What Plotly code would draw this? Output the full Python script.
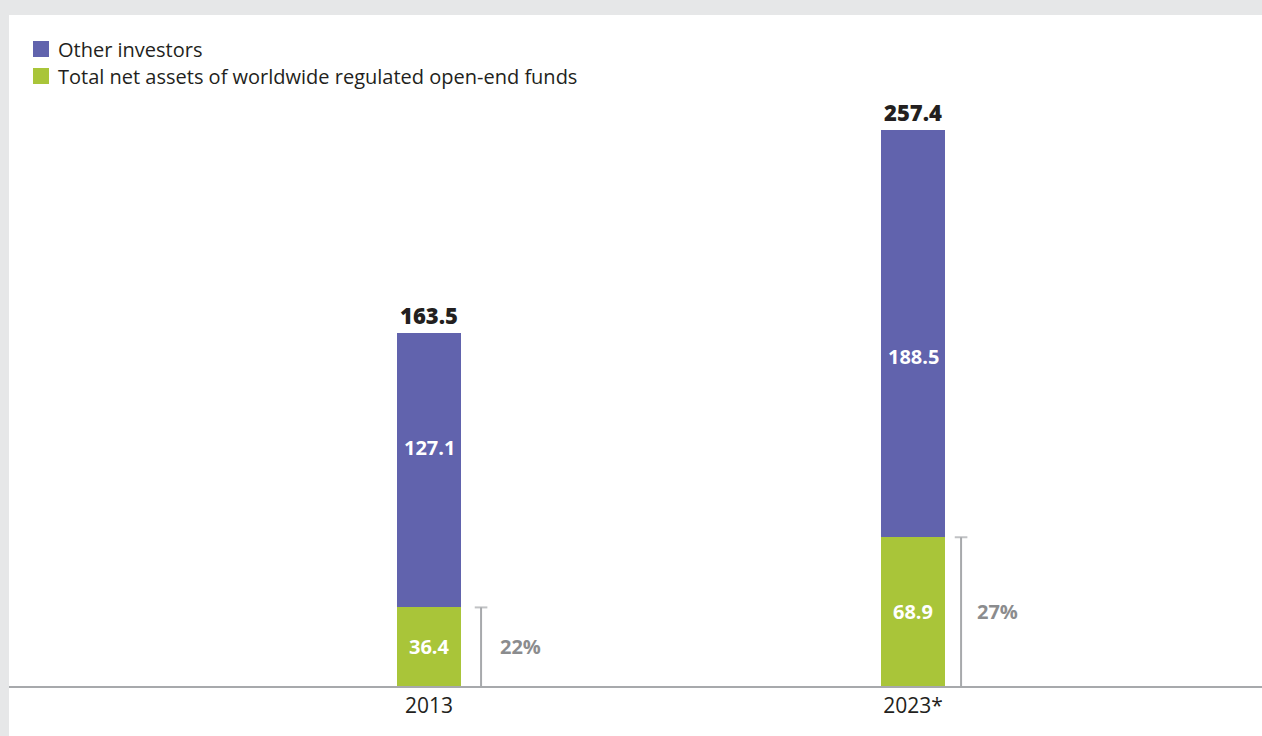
import plotly.graph_objects as go

# data
years = ["2013", "2023*"]
funds = [36.4, 68.9]          # total net assets of regulated open-end funds
others = [127.1, 188.5]       # other investors
totals = [163.5, 257.4]
shares = ["22%", "27%"]
legend_names = ["Other investors",
                "Total net assets of worldwide regulated open-end funds"]

PURPLE = "#6163ad"
GREEN = "#a9c539"
GREY_LINE = "#a7a9ac"
GREY_TEXT = "#8b8c8e"
DARK = "#231f20"
FONT = "Open Sans"

W, H = 1262, 736
ML, MT, MB = 9, 15, 50
PW, PH = W - ML, H - MT - MB


def px_x(px):
    return (px - ML) / PW


def px_y(py):
    return (H - MB - py) / PH


xpos = list(range(len(years)))
bar_w = 0.132
bracket_dx = [0.1074, 0.0992]
share_shift = [17, 14]

fig = go.Figure()

fig.add_trace(go.Bar(
    x=xpos, y=funds, width=bar_w,
    marker=dict(color=GREEN, line=dict(width=0)),
    name=legend_names[1], showlegend=False,
))
fig.add_trace(go.Bar(
    x=xpos, y=others, width=bar_w,
    marker=dict(color=PURPLE, line=dict(width=0)),
    name=legend_names[0], showlegend=False,
))

# share brackets next to the green segment
for i, v in enumerate(funds):
    bx = xpos[i] + bracket_dx[i]
    fig.add_trace(go.Scatter(
        x=[bx, bx],
        y=[0, v],
        mode="lines+markers",
        line=dict(color=GREY_LINE, width=2),
        marker=dict(symbol=["line-ew", "line-ew"], size=[0, 9],
                    line=dict(color=GREY_LINE, width=2)),
        showlegend=False, hoverinfo="skip",
    ))
    fig.add_annotation(
        x=bx, y=v / 2, text=shares[i],
        xanchor="left", yanchor="middle", xshift=share_shift[i],
        showarrow=False,
        font=dict(family=FONT, size=20, color=GREY_TEXT, weight=700),
    )

# labels
label_shift = [23, -23]
for i in xpos:
    fig.add_annotation(
        x=i, y=totals[i], text=totals[i], yanchor="bottom", yshift=1,
        showarrow=False,
        font=dict(family=FONT, size=22, color=DARK, weight=800),
    )
    fig.add_annotation(
        x=i, y=funds[i] + others[i] / 2, text=f"{others[i]:.1f}",
        yshift=label_shift[i], showarrow=False,
        font=dict(family=FONT, size=20, color="white", weight=700),
    )
    fig.add_annotation(
        x=i, y=funds[i] / 2, text=f"{funds[i]:.1f}", showarrow=False,
        font=dict(family=FONT, size=20, color="white", weight=700),
    )

# white panel on grey page
fig.add_shape(type="rect", xref="paper", yref="paper",
              x0=0, x1=1.01, y0=-0.2, y1=1,
              fillcolor="white", line=dict(width=0), layer="below")

# legend drawn by hand (square swatches)
for k, (name, col) in enumerate(zip(legend_names, [PURPLE, GREEN])):
    cy = 49 + 27 * k
    fig.add_shape(type="rect", xref="paper", yref="paper",
                  x0=px_x(33), x1=px_x(49), y0=px_y(cy + 8), y1=px_y(cy - 8),
                  fillcolor=col, line=dict(width=0))
    fig.add_annotation(
        xref="paper", yref="paper", x=px_x(56), y=px_y(cy),
        xanchor="left", yanchor="middle", text=name, showarrow=False,
        font=dict(family=FONT, size=20, color=DARK),
    )

fig.update_layout(
    width=W, height=H,
    margin=dict(l=ML, r=0, t=MT, b=MB, pad=0),
    paper_bgcolor="#e6e7e8",
    plot_bgcolor="white",
    barmode="stack",
    bargap=0,
    showlegend=False,
    xaxis=dict(range=[-0.868, 1.721], tickvals=xpos, ticktext=years,
               showgrid=False, zeroline=False, showline=True,
               linecolor=GREY_LINE, linewidth=2, ticks="",
               tickfont=dict(family=FONT, size=21, color=DARK)),
    yaxis=dict(range=[0, 310.8], visible=False),
)

fig.write_html(
    "out.html", config={"displayModeBar": False},
    post_script="document.body.style.margin='0';"
                "document.body.style.overflow='hidden';"
                "document.documentElement.style.overflow='hidden';",
)
